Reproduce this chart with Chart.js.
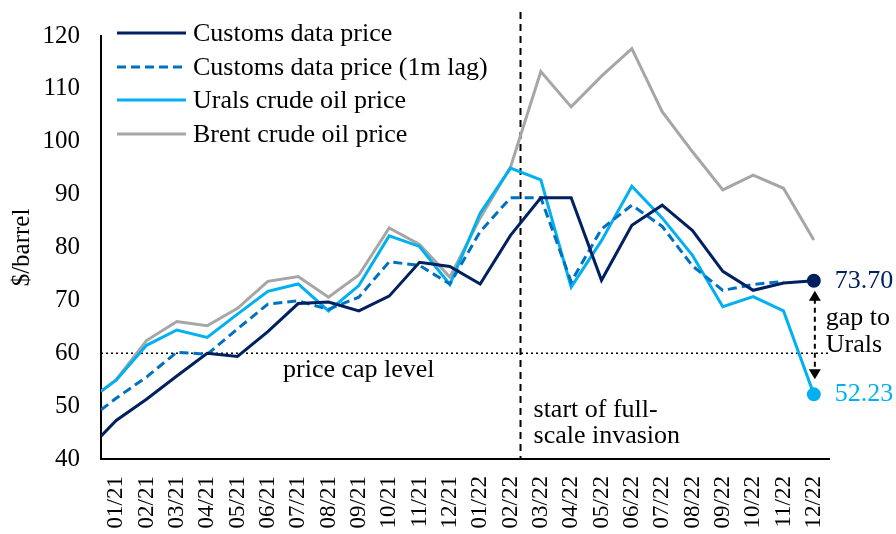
<!DOCTYPE html>
<html>
<head>
<meta charset="utf-8">
<script src="https://cdn.jsdelivr.net/npm/chart.js@4/dist/chart.umd.min.js"></script>
<style>
  body { margin: 0; background: #fff; }
  #wrap { width: 896px; height: 534px; }
</style>
</head>
<body>
<div id="wrap"><canvas id="myChart" width="896" height="534"></canvas></div>
<script>
// Month labels on the x axis
const months = ['01/21', '02/21', '03/21', '04/21', '05/21', '06/21', '07/21', '08/21', '09/21', '10/21', '11/21', '12/21',
                '01/22', '02/22', '03/22', '04/22', '05/22', '06/22', '07/22', '08/22', '09/22', '10/22', '11/22', '12/22'];

// Each series: first value sits at the start of the axis (half a month before 01/21), then one per month
const customsPrice = [44.3, 47.3, 51.3, 55.7, 60.0, 59.4, 64.1, 69.4, 69.7, 68.0, 70.8, 77.2, 76.4,
                      73.1, 82.3, 89.4, 89.4, 73.8, 84.2, 88.0, 83.2, 75.5, 71.9, 73.3, 73.7];
const customsLag = [49.3, 51.5, 55.5, 60.2, 59.8, 64.6, 69.3, 69.9, 68.3, 70.6, 77.3, 76.6, 73.1,
                    83.0, 89.4, 89.4, 73.5, 83.5, 88.0, 84.0, 76.5, 71.9, 73.0, 73.6, null];
const uralsPrice = [52.8, 54.9, 61.5, 64.4, 63.0, 67.4, 71.7, 73.1, 68.0, 72.8, 82.2, 80.2, 73.0,
                    86.5, 95.0, 92.8, 72.5, 81.3, 91.6, 85.6, 78.5, 68.8, 70.7, 68.0, 52.23];
const brentPrice = [52.8, 55.0, 62.4, 66.0, 65.2, 68.5, 73.6, 74.5, 70.6, 74.8, 83.7, 80.6, 74.4,
                    85.6, 95.2, 113.3, 106.6, 112.4, 117.6, 105.7, 98.1, 90.9, 93.7, 91.2, 81.4];

const yTicks = [40, 50, 60, 70, 80, 90, 100, 110, 120];
const priceCap = 60;
const invasionPos = 13.33;   // late Feb 2022, in month index units

const FONT = '"Liberation Serif", "Times New Roman", serif';
const NAVY = '#002060', MID = '#0070C0', CYAN = '#00B0F0', GREY = '#A6A6A6';

function toPoints(values) {
    return values.map((v, i) => ({ x: i === 0 ? -0.5 : i - 1, y: v }));
}

function lastDot(values) {
    return values.map((v, i) => (i === values.length - 1 ? 5.5 : 0));
}

// Reference lines (behind the series) and text / legend / arrow (on top)
const annotations = {
    id: 'annotations',
    beforeDatasetsDraw(chart) {
        const { ctx, chartArea, scales } = chart;
        const x = scales.x, y = scales.y;
        ctx.save();
        // price cap dotted line
        ctx.strokeStyle = '#000';
        ctx.lineWidth = 1.5;
        ctx.setLineDash([2, 3]);
        ctx.beginPath();
        ctx.moveTo(chartArea.left, y.getPixelForValue(priceCap));
        ctx.lineTo(chartArea.right, y.getPixelForValue(priceCap));
        ctx.stroke();
        // invasion dashed line
        ctx.lineWidth = 2;
        ctx.setLineDash([7, 5]);
        const xi = x.getPixelForValue(invasionPos);
        ctx.beginPath();
        ctx.moveTo(xi, 12);
        ctx.lineTo(xi, chartArea.bottom);
        ctx.stroke();
        ctx.restore();
    },
    afterDatasetsDraw(chart) {
        const { ctx, scales } = chart;
        const x = scales.x, y = scales.y;
        ctx.save();
        ctx.font = '26px ' + FONT;
        ctx.textBaseline = 'middle';
        ctx.textAlign = 'left';
        ctx.fillStyle = '#000';
        ctx.fillText('price cap level', x.getPixelForValue(5.5), y.getPixelForValue(56.8));
        const xi = x.getPixelForValue(invasionPos);
        ctx.fillText('start of full-', xi + 13, y.getPixelForValue(49.3));
        ctx.fillText('scale invasion', xi + 13, y.getPixelForValue(44.3));

        // end value labels
        const last = months.length - 1;
        const xe = x.getPixelForValue(last);
        const yNavy = y.getPixelForValue(customsPrice[customsPrice.length - 1]);
        const yUrals = y.getPixelForValue(uralsPrice[uralsPrice.length - 1]);
        ctx.fillStyle = NAVY;
        ctx.fillText(customsPrice[customsPrice.length - 1].toFixed(2), xe + 21, yNavy);
        ctx.fillStyle = CYAN;
        ctx.fillText(uralsPrice[uralsPrice.length - 1].toFixed(2), xe + 21, yUrals);
        ctx.fillStyle = '#000';
        ctx.fillText('gap to', xe + 12, yNavy + 37);
        ctx.fillText('Urals', xe + 12, yNavy + 64);

        // double-headed dashed arrow
        const xa = xe + 1, top = yNavy + 10, bot = yUrals - 15;
        ctx.strokeStyle = '#000';
        ctx.lineWidth = 2;
        ctx.setLineDash([5, 4]);
        ctx.beginPath();
        ctx.moveTo(xa, top + 8);
        ctx.lineTo(xa, bot - 8);
        ctx.stroke();
        ctx.setLineDash([]);
        ctx.beginPath();
        ctx.moveTo(xa, top); ctx.lineTo(xa - 6, top + 10); ctx.lineTo(xa + 6, top + 10); ctx.closePath();
        ctx.moveTo(xa, bot); ctx.lineTo(xa - 6, bot - 10); ctx.lineTo(xa + 6, bot - 10); ctx.closePath();
        ctx.fill();

        // legend
        const legendY = [33, 67, 100, 134];
        chart.data.datasets.forEach((ds, i) => {
            ctx.strokeStyle = ds.borderColor;
            ctx.lineWidth = 3;
            ctx.setLineDash(ds.borderDash || []);
            ctx.beginPath();
            ctx.moveTo(117, legendY[i]);
            ctx.lineTo(186, legendY[i]);
            ctx.stroke();
            ctx.fillStyle = '#000';
            ctx.fillText(ds.label, 193, legendY[i] + 1);
        });
        ctx.restore();
    }
};

const data = {
    datasets: [
        { label: 'Customs data price', data: toPoints(customsPrice), borderColor: NAVY, backgroundColor: NAVY,
          borderWidth: 3, pointRadius: lastDot(customsPrice) },
        { label: 'Customs data price (1m lag)', data: toPoints(customsLag), borderColor: MID, borderWidth: 3,
          borderDash: [9, 5], pointRadius: 0 },
        { label: 'Urals crude oil price', data: toPoints(uralsPrice), borderColor: CYAN, backgroundColor: CYAN,
          borderWidth: 3, pointRadius: lastDot(uralsPrice) },
        { label: 'Brent crude oil price', data: toPoints(brentPrice), borderColor: GREY, borderWidth: 3, pointRadius: 0 }
    ]
};

const config = {
    type: 'line',
    data: data,
    options: {
        responsive: false,
        animation: false,
        devicePixelRatio: 1,
        layout: { padding: { left: 0, right: 67, top: 31, bottom: 0 } },
        plugins: { legend: { display: false }, tooltip: { enabled: false } },
        elements: { line: { tension: 0 }, point: { borderWidth: 0 } },
        scales: {
            x: {
                type: 'linear',
                min: -0.5,
                max: 23.5,
                grid: { display: false, drawTicks: false },
                border: { display: true, color: '#000', width: 2 },
                afterBuildTicks: s => { s.ticks = months.map((m, i) => ({ value: i })); },
                afterFit: s => { s.height = 75; },
                ticks: {
                    autoSkip: false, minRotation: 90, maxRotation: 90, padding: 17,
                    color: '#000', font: { family: FONT, size: 23 },
                    callback: v => months[v]
                }
            },
            y: {
                min: yTicks[0],
                max: yTicks[yTicks.length - 1],
                grid: { display: false, drawTicks: false },
                border: { display: true, color: '#000', width: 2 },
                afterBuildTicks: s => { s.ticks = yTicks.map(v => ({ value: v })); },
                afterFit: s => { s.width = 101; },
                ticks: { padding: 21, color: '#000', font: { family: FONT, size: 25 } },
                title: { display: true, text: '$/barrel', color: '#000', font: { family: FONT, size: 25 },
                         padding: { top: 7, bottom: 0 } }
            }
        }
    },
    plugins: [annotations]
};

const ctx = document.getElementById('myChart').getContext('2d');
new Chart(ctx, config);
</script>
</body>
</html>
